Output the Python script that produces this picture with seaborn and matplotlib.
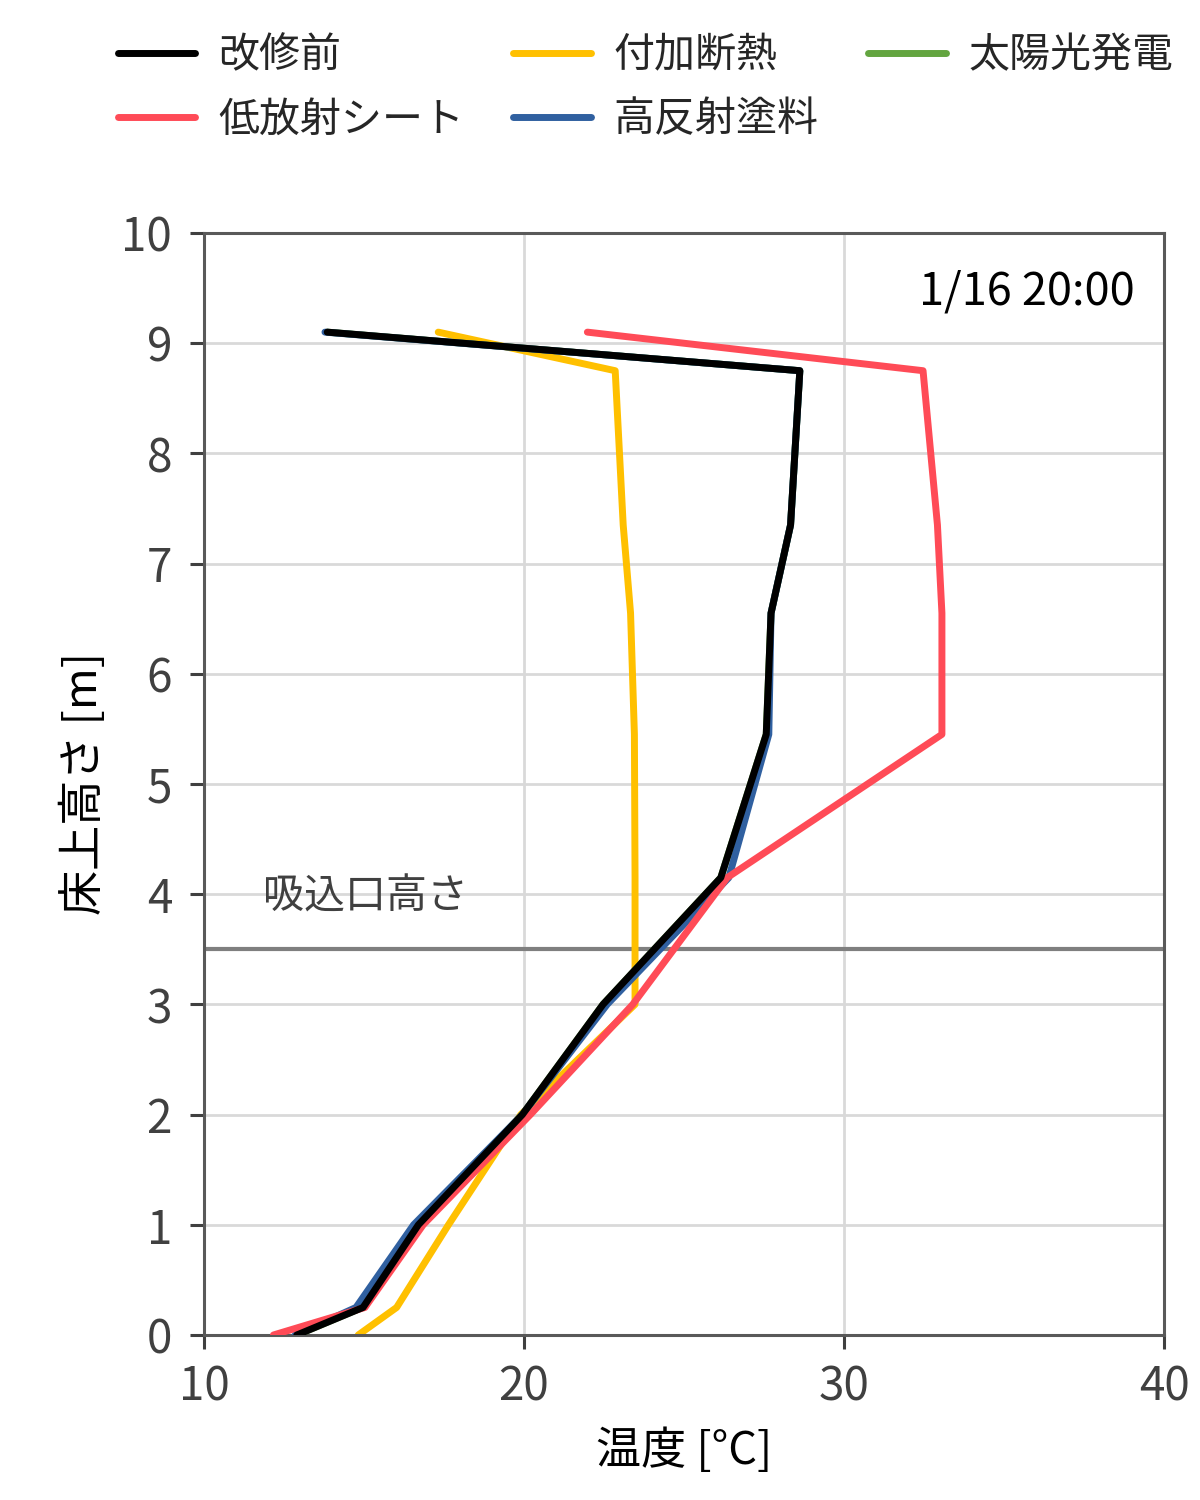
import matplotlib
matplotlib.use("Agg")
import matplotlib.pyplot as plt
import seaborn as sns
import pandas as pd

# heights above floor [m]
heights = [0, 0.25, 1, 2, 3, 4.15, 5.45, 6.55, 7.35, 8.75, 9.1]

# temperatures [°C] per case
before = [12.9, 14.97, 16.7, 19.95, 22.47, 26.15, 27.57, 27.72, 28.33, 28.62, 13.85]
insulation = [14.82, 16.02, 17.64, 19.9, 23.47, 23.47, 23.45, 23.33, 23.1, 22.85, 17.32]
solar = [12.9, 14.95, 16.65, 19.95, 22.47, 26.15, 27.57, 27.72, 28.33, 28.62, 13.85]
low_e_sheet = [12.17, 15.03, 16.85, 20.2, 23.4, 26.35, 33.06, 33.06, 32.92, 32.47, 21.98]
reflective = [12.85, 14.75, 16.55, 19.95, 22.6, 26.4, 27.65, 27.72, 28.33, 28.62, 13.78]

labels = ["改修前", "付加断熱", "太陽光発電", "低放射シート", "高反射塗料"]
series = [before, insulation, solar, low_e_sheet, reflective]
colors = ["#000000", "#FFC000", "#63A540", "#FF4B57", "#3060A0"]
zorders = [6, 2, 3, 4, 3.5]

inlet_height = 3.5

sns.set_theme(style="white")
plt.rcParams["font.family"] = ["Noto Sans CJK JP", "DejaVu Sans"]

fig = plt.figure(figsize=(12, 15), dpi=100)
ax = fig.add_axes([0.17, 0.11, 0.8, 0.7347])

for lab, vals, col, z in zip(labels, series, colors, zorders):
    df = pd.DataFrame({"temp": vals, "h": heights})
    sns.lineplot(data=df, x="temp", y="h", sort=False, estimator=None,
                 color=col, linewidth=5, label=lab, ax=ax, zorder=z)

ax.axhline(inlet_height, color="#7F7F7F", linewidth=3, zorder=1.5)
ax.text(11.85, 3.97, "吸込口高さ", fontsize=29.5, color="#404040",
        va="center", ha="left")
ax.text(39.1, 9.47, "1/16 20:00", fontsize=32.5, color="black",
        va="center", ha="right")

ax.set_xlim(10, 40)
ax.set_ylim(0, 10)
ax.set_xticks([10, 20, 30, 40])
ax.set_yticks(range(0, 11))
ax.grid(True, color="#D9D9D9", linewidth=2)
ax.set_axisbelow(True)
for s in ax.spines.values():
    s.set_color("#595959")
    s.set_linewidth(2.2)
ax.tick_params(axis="both", which="both", direction="out", length=10,
               width=2.2, color="#404040", labelsize=33, labelcolor="#404040",
               left=True, bottom=True)
ax.tick_params(axis="y", pad=13)
ax.tick_params(axis="x", pad=10)
ax.set_xlabel("温度 [°C]", fontsize=32.5, color="black", labelpad=12)
ax.set_ylabel("床上高さ [m]", fontsize=32.5, color="black", labelpad=10)

# legend is filled row by row in the reference
handles, labs = ax.get_legend_handles_labels()
ax.get_legend().remove()
order = [0, 3, 1, 4, 2]
fig.legend([handles[i] for i in order], [labs[i] for i in order], ncol=3,
           loc="upper left", bbox_to_anchor=(0.098, 0.9767), frameon=False,
           fontsize=29.5, handlelength=1.9, handletextpad=0.55,
           columnspacing=1.2, labelspacing=0.57, borderpad=0,
           borderaxespad=0)

fig.savefig("out.png", dpi=100)
